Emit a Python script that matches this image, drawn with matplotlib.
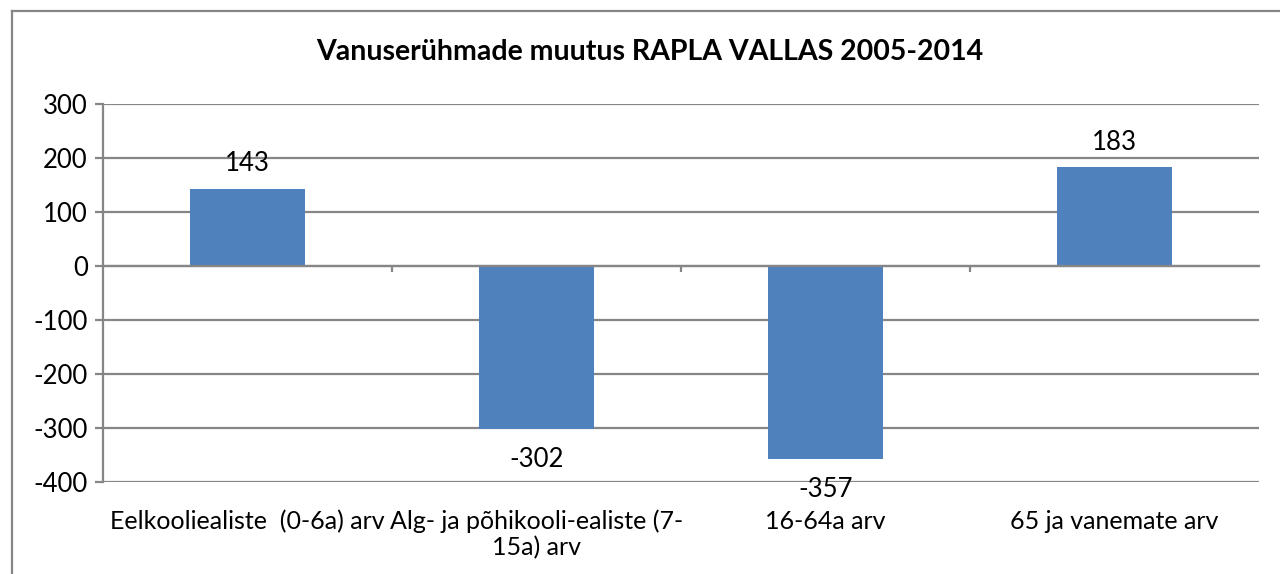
import matplotlib
matplotlib.use("Agg")
import matplotlib.pyplot as plt
from matplotlib.lines import Line2D
import matplotlib.transforms as mtransforms

plt.rcParams['font.family'] = ['Lato', 'DejaVu Sans']

title = "Vanuserühmade muutus RAPLA VALLAS 2005-2014"
categories = ["Eelkooliealiste  (0-6a) arv",
              "Alg- ja põhikooli-ealiste (7-\n15a) arv",
              "16-64a arv",
              "65 ja vanemate arv"]
values = [143, -302, -357, 183]
yticks = [300, 200, 100, 0, -100, -200, -300, -400]

bar_color = "#4F81BD"
grid_color = "#868686"
fs = 18.5

fig = plt.figure(figsize=(12.8, 5.74), dpi=100)
ax = fig.add_axes([103/1280, 1-482/574, (1259-103)/1280, (482-104)/574])

x = list(range(len(categories)))
ax.bar(x, values, width=0.4, color=bar_color, zorder=3)
ax.set_xlim(-0.5, len(categories) - 0.5)
ax.set_ylim(min(yticks), max(yticks))
ax.set_yticks(yticks)
ax.set_yticklabels([str(t) for t in yticks], fontsize=fs)
ax.yaxis.grid(True, color=grid_color, linewidth=1.6, zorder=0)
ax.tick_params(axis='y', length=6, width=1.6, color=grid_color, pad=5)

for s in ['top', 'right']:
    ax.spines[s].set_visible(False)
ax.spines['left'].set_color(grid_color)
ax.spines['left'].set_linewidth(1.6)
ax.spines['bottom'].set_position(('data', 0))
ax.spines['bottom'].set_color(grid_color)
ax.spines['bottom'].set_linewidth(1.6)
ax.spines['bottom'].set_zorder(4)
ax.set_xticks([])
ax.set_xticks([i + 0.5 for i in x[:-1]], minor=True)
ax.tick_params(axis='x', which='minor', length=4, width=1.6, color=grid_color, direction='out')
ax.set_xticklabels([], minor=True)

# data labels
for xi, v in zip(x, values):
    off = 18 if v >= 0 else -22
    ax.annotate(str(v), (xi, v), xytext=(0, off), textcoords='offset points',
                ha='center', va='center', fontsize=fs, zorder=5)

# category labels at the bottom
trans = mtransforms.blended_transform_factory(ax.transData, ax.transAxes)
for xi, c in zip(x, categories):
    ax.annotate(c, (xi, 0), xycoords=trans, xytext=(0, -20), textcoords='offset points',
                ha='center', va='top', fontsize=18, linespacing=1.12)

fig.text(650/1280, 1-52/574, title, ha='center', va='center', fontsize=20.5, fontweight='bold')

# outer chart frame (left and top edges visible)
fig.add_artist(Line2D([12/1280, 12/1280], [0, 1-11/574], transform=fig.transFigure,
                      color=grid_color, linewidth=1.6))
fig.add_artist(Line2D([12/1280, 1], [1-11/574, 1-11/574], transform=fig.transFigure,
                      color=grid_color, linewidth=1.6))

fig.savefig("out.png", dpi=100)
